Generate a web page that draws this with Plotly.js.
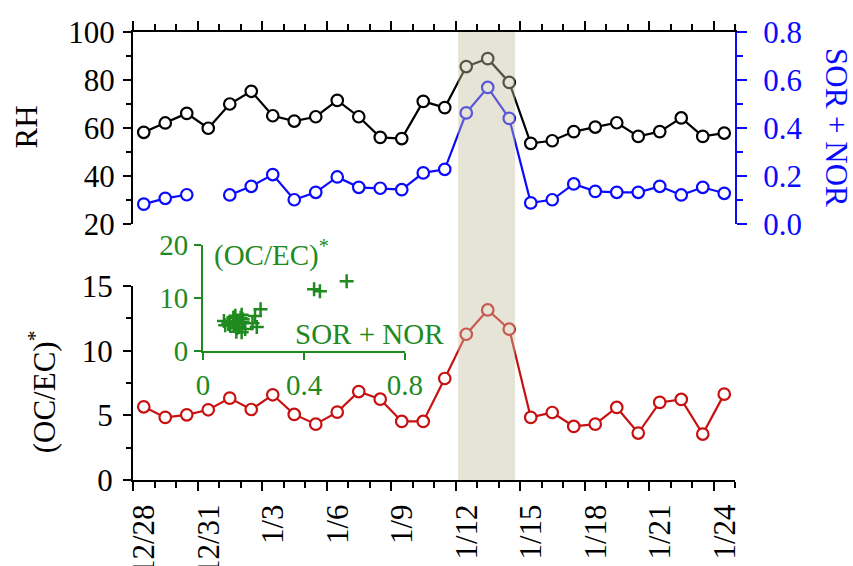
<!DOCTYPE html>
<html>
<head>
<meta charset="utf-8">
<script src="https://cdn.plot.ly/plotly-3.0.1.min.js"></script>
<style>html,body{margin:0;padding:0;background:#fff;}#chart{width:853px;height:566px;}</style>
</head>
<body>
<div id="chart"></div>
<script>
// sampling dates (one value per day)
var dates = ['2013-12-28','2013-12-29','2013-12-30','2013-12-31',
  '2014-01-01','2014-01-02','2014-01-03','2014-01-04','2014-01-05','2014-01-06','2014-01-07',
  '2014-01-08','2014-01-09','2014-01-10','2014-01-11','2014-01-12','2014-01-13','2014-01-14',
  '2014-01-15','2014-01-16','2014-01-17','2014-01-18','2014-01-19','2014-01-20','2014-01-21',
  '2014-01-22','2014-01-23','2014-01-24'];
// relative humidity (%)
var rh = [58.2, 62.1, 66.1, 59.9, 70.0, 75.3, 65.1, 62.9, 64.7, 71.5, 64.7, 56.1, 55.6, 71.1,
  68.5, 85.6, 88.9, 79.0, 53.6, 54.7, 58.5, 60.4, 62.2, 56.5, 58.5, 64.2, 56.5, 57.9];
// SOR + NOR
var sorNor = [0.083, 0.107, 0.122, null, 0.121, 0.157, 0.206, 0.101, 0.132, 0.196, 0.153, 0.149,
  0.143, 0.213, 0.228, 0.463, 0.569, 0.440, 0.088, 0.101, 0.167, 0.136, 0.132, 0.132, 0.157,
  0.121, 0.153, 0.128];
// (OC/EC)*
var ocec = [5.66, 4.84, 5.04, 5.43, 6.33, 5.45, 6.59, 5.07, 4.32, 5.25, 6.84, 6.25, 4.53, 4.53,
  7.85, 11.27, 13.15, 11.66, 4.84, 5.22, 4.14, 4.32, 5.61, 3.63, 6.00, 6.23, 3.55, 6.64];
// shaded episode
var episode = ['2014-01-12 03:00', '2014-01-14 18:30'];

var xs = dates.map(function(d){ return d + ' 12:00'; });

var FONT = 'Liberation Serif, Times New Roman, serif';
var FS = 31, FSI = 29;
var BLUE = '#0a0aff', RED = '#c81010', GREEN = '#1f8a1f';

var traces = [
  {x: xs, y: rh, xaxis: 'x2', yaxis: 'y2', mode: 'lines+markers', type: 'scatter',
   line: {color: '#000', width: 2.2},
   marker: {symbol: 'circle', size: 11.5, color: '#fff', line: {color: '#000', width: 2.2}}},
  {x: xs, y: sorNor, xaxis: 'x2', yaxis: 'y3', mode: 'lines+markers', type: 'scatter',
   line: {color: BLUE, width: 2.2},
   marker: {symbol: 'circle', size: 11.5, color: '#fff', line: {color: BLUE, width: 2.2}}},
  {x: xs, y: ocec, xaxis: 'x', yaxis: 'y', mode: 'lines+markers', type: 'scatter',
   line: {color: RED, width: 2.2},
   marker: {symbol: 'circle', size: 11.5, color: '#fff', line: {color: RED, width: 2.2}}},
  {x: sorNor, y: ocec, xaxis: 'x3', yaxis: 'y4', mode: 'markers', type: 'scatter',
   marker: {symbol: 'cross-thin', size: 10, color: GREEN, line: {color: GREEN, width: 2.5}}}
];

var tf = {family: FONT, size: FS, color: '#000'};
var DAY = 86400000;

var layout = {
  width: 853, height: 566, autosize: false,
  margin: {l: 133, r: 118, t: 32, b: 86, pad: 0},
  paper_bgcolor: '#fff', plot_bgcolor: 'rgba(0,0,0,0)',
  showlegend: false,
  font: tf,
  xaxis: {type: 'date', range: ['2013-12-28', '2014-01-25'], domain: [0, 1], anchor: 'y',
    tick0: '2013-12-28', dtick: 3 * DAY, tickformat: '%-m/%-d', tickangle: -90,
    ticks: 'outside', ticklen: 9, tickwidth: 2, tickcolor: '#000',
    minor: {dtick: DAY, ticks: 'outside', ticklen: 6, tickwidth: 2, tickcolor: '#000'},
    ticklabelshift: 11, ticklabelstandoff: 1,
    showline: true, linecolor: '#000', linewidth: 2, showgrid: false, zeroline: false,
    tickfont: tf},
  xaxis2: {type: 'date', matches: 'x', anchor: 'y2', side: 'top', domain: [0, 1],
    tick0: '2013-12-28', dtick: 3 * DAY,
    ticks: 'outside', ticklen: 9, tickwidth: 2, tickcolor: '#000', showticklabels: false,
    minor: {dtick: DAY, ticks: 'outside', ticklen: 6.5, tickwidth: 2, tickcolor: '#000'},
    showline: true, linecolor: '#000', linewidth: 2, showgrid: false, zeroline: false},
  yaxis: {range: [0, 15], domain: [0, 0.433], anchor: 'x', dtick: 5,
    ticks: 'outside', ticklen: 8, tickwidth: 2, tickcolor: '#000',
    minor: {dtick: 2.5, ticks: 'outside', ticklen: 5, tickwidth: 2, tickcolor: '#000'},
    ticklabelstandoff: 4,
    showline: true, linecolor: '#000', linewidth: 2, showgrid: false, zeroline: false,
    tickfont: tf},
  yaxis5: {range: [0, 15], overlaying: 'y', side: 'right', anchor: 'x', dtick: 2.5,
    ticks: 'inside', ticklen: 8, tickwidth: 2, tickcolor: '#000', showticklabels: false,
    showline: true, linecolor: '#000', linewidth: 2, showgrid: false, zeroline: false},
  yaxis2: {range: [20, 100], domain: [0.5714, 1], anchor: 'x2', dtick: 20,
    ticks: 'outside', ticklen: 8, tickwidth: 2, tickcolor: '#000',
    minor: {dtick: 10, ticks: 'outside', ticklen: 5, tickwidth: 2, tickcolor: '#000'},
    ticklabelstandoff: 2,
    showline: true, linecolor: '#000', linewidth: 2, showgrid: false, zeroline: false,
    tickfont: tf},
  yaxis3: {range: [0, 0.8], overlaying: 'y2', side: 'right', anchor: 'x2', dtick: 0.2,
    tickformat: '.1f',
    ticks: 'outside', ticklen: 10, tickwidth: 2, tickcolor: BLUE,
    minor: {dtick: 0.1, ticks: 'outside', ticklen: 6, tickwidth: 2, tickcolor: BLUE},
    ticklabelstandoff: 10,
    showline: true, linecolor: BLUE, linewidth: 2, showgrid: false, zeroline: false,
    tickfont: {family: FONT, size: FS, color: BLUE}},
  xaxis3: {range: [0, 0.8], domain: [0.1163, 0.4518], anchor: 'y4', dtick: 0.4,
    ticks: 'outside', ticklen: 7, tickwidth: 2, tickcolor: GREEN,
    showline: true, linecolor: GREEN, linewidth: 2, showgrid: false, zeroline: false,
    tickfont: {family: FONT, size: FSI, color: GREEN}},
  yaxis4: {range: [0, 20], domain: [0.288, 0.5246], anchor: 'x3', dtick: 10,
    ticks: 'outside', ticklen: 7, tickwidth: 2, tickcolor: GREEN,
    showline: true, linecolor: GREEN, linewidth: 2, showgrid: false, zeroline: false,
    tickfont: {family: FONT, size: FSI, color: GREEN}},
  shapes: [{type: 'rect', xref: 'x', yref: 'paper', x0: episode[0], x1: episode[1], y0: 0, y1: 1,
    fillcolor: 'rgb(197,190,162)', opacity: 0.43, line: {width: 0}, layer: 'above'}],
  annotations: [
    {text: 'RH', xref: 'paper', yref: 'paper', x: -0.1777, y: 0.787, textangle: -90,
     showarrow: false, xanchor: 'center', yanchor: 'middle', font: tf},
    {text: '(OC/EC)<sup>*</sup>', xref: 'paper', yref: 'paper', x: -0.151, y: 0.196, textangle: -90,
     showarrow: false, xanchor: 'center', yanchor: 'middle', font: tf},
    {text: 'SOR + NOR', xref: 'paper', yref: 'paper', x: 1.1694, y: 0.7857, textangle: 90,
     showarrow: false, xanchor: 'center', yanchor: 'middle', font: {family: FONT, size: FS, color: BLUE}},
    {text: '(OC/EC)<sup>*</sup>', xref: 'paper', yref: 'paper', x: 0.131, y: 0.505,
     showarrow: false, xanchor: 'left', yanchor: 'middle', font: {family: FONT, size: FSI, color: GREEN}},
    {text: 'SOR + NOR', xref: 'paper', yref: 'paper', x: 0.52, y: 0.326,
     showarrow: false, xanchor: 'right', yanchor: 'middle', font: {family: FONT, size: FSI, color: GREEN}}
  ]
};

Plotly.newPlot('chart', traces, layout, {displayModeBar: false, staticPlot: true});
</script>
</body>
</html>
